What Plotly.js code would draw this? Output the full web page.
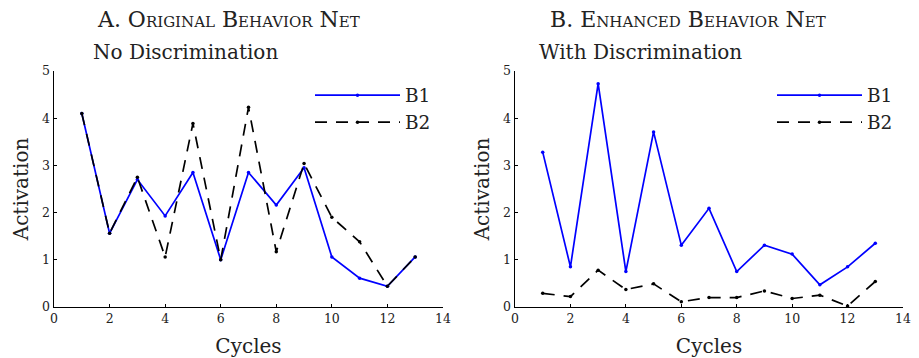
<!DOCTYPE html>
<html><head><meta charset="utf-8">
<script src="https://cdn.plot.ly/plotly-3.0.1.min.js"></script>
<style>body{margin:0;padding:0;background:#fff}#chart{width:919px;height:358px}</style>
</head><body><div id="chart"></div>
<script>
const cycles = [1,2,3,4,5,6,7,8,9,10,11,12,13];
const origB1 = [4.1,1.56,2.7,1.93,2.85,1.0,2.85,2.16,2.95,1.06,0.61,0.44,1.06];
const origB2 = [4.1,1.56,2.75,1.06,3.89,1.0,4.23,1.17,3.04,1.9,1.38,0.44,1.06];
const enhB1 = [3.28,0.85,4.73,0.75,3.71,1.31,2.09,0.75,1.31,1.12,0.47,0.85,1.35];
const enhB2 = [0.29,0.22,0.78,0.37,0.49,0.11,0.2,0.2,0.34,0.18,0.25,0.02,0.54];
const xTicks = [0,2,4,6,8,10,12,14];
const yTicks = [0,1,2,3,4,5];

const FONT = 'DejaVu Serif, serif';
const blue = '#0000ff';
const black = '#000000';

function tr(y, name, xa, ya, leg, isB2){
  return {x: cycles, y: y, name: name, xaxis: xa, yaxis: ya, legend: leg,
    mode: 'lines+markers', type: 'scatter',
    line: {color: isB2 ? black : blue, width: 1.7, dash: isB2 ? '12px,9px' : 'solid'},
    marker: {color: isB2 ? black : blue, size: 3.5, symbol: 'circle'}};
}
const data = [
  tr(origB1,'B1','x','y','legend',false),
  tr(origB2,'B2','x','y','legend',true),
  tr(enhB1,'B1','x2','y2','legend2',false),
  tr(enhB2,'B2','x2','y2','legend2',true)
];
function xax(dom, anchor){
  return {domain: dom, anchor: anchor, range:[0,14], tickvals: xTicks, ticktext: xTicks.map(String),
    showgrid:false, zeroline:false, showline:true, linecolor:'#000', linewidth:1.5,
    ticks:'inside', ticklen:3, tickwidth:1.2, tickcolor:'#000', mirror:false,
    tickfont:{family:FONT, size:12.5, color:'#222'},
    title:{text:'Cycles', font:{family:FONT, size:20, color:'#222'}, standoff:14}};
}
function yax(anchor){
  return {domain:[0.1425,0.8017], anchor: anchor, range:[0,5], tickvals: yTicks, ticktext: yTicks.map(String),
    showgrid:false, zeroline:false, showline:true, linecolor:'#000', linewidth:1.5,
    ticks:'inside', ticklen:3, tickwidth:1.2, tickcolor:'#000',
    tickfont:{family:FONT, size:12.5, color:'#222'},
    title:{text:'Activation', font:{family:FONT, size:20, color:'#222'}, standoff:8}};
}
function leg(x){
  return {x:x, y:0.786, xref:'paper', yref:'paper', xanchor:'left', yanchor:'top',
    bgcolor:'rgba(0,0,0,0)', borderwidth:0, itemwidth:85, tracegroupgap:0,
    font:{family:FONT, size:18.5, color:'#222'}};
}
const layout = {
  width:919, height:358, margin:{l:0,r:0,t:0,b:0},
  paper_bgcolor:'#fff', plot_bgcolor:'#fff', showlegend:true,
  xaxis: xax([0.0588,0.482],'y'),
  yaxis: yax('x'),
  xaxis2: xax([0.5604,0.9826],'y2'),
  yaxis2: yax('x2'),
  legend: leg(310/919),
  legend2: leg(772/919),
  annotations: [
    {text:'A. Original Behavior Net', x:228/919, y:1-19/358, xref:'paper', yref:'paper', xanchor:'center', yanchor:'middle', showarrow:false,
      font:{family:FONT, size:22, color:'#222', variant:'small-caps'}},
    {text:'No Discrimination', x:91/919, y:1-52/358, xref:'paper', yref:'paper', xanchor:'left', yanchor:'middle', showarrow:false,
      font:{family:FONT, size:20, color:'#222'}},
    {text:'B. Enhanced Behavior Net', x:688/919, y:1-19/358, xref:'paper', yref:'paper', xanchor:'center', yanchor:'middle', showarrow:false,
      font:{family:FONT, size:22, color:'#222', variant:'small-caps'}},
    {text:'With Discrimination', x:537/919, y:1-52/358, xref:'paper', yref:'paper', xanchor:'left', yanchor:'middle', showarrow:false,
      font:{family:FONT, size:20, color:'#222'}}
  ]
};
Plotly.newPlot('chart', data, layout, {staticPlot:true, displayModeBar:false});
</script></body></html>
